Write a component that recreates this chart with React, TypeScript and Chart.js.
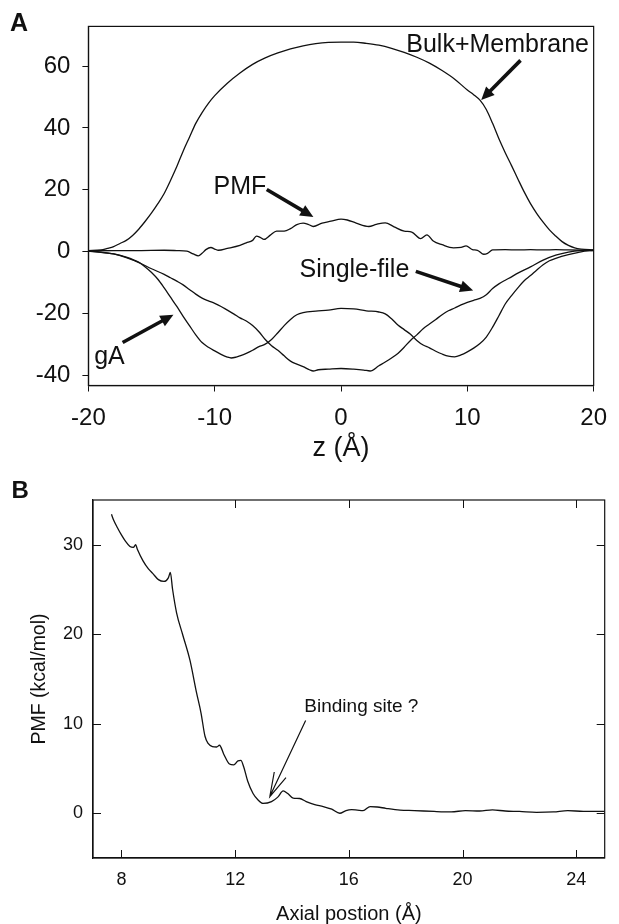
import React, { useEffect, useRef } from 'react';
import { Chart, registerables } from 'chart.js';

Chart.register(...registerables);

const FONT = "'Liberation Sans', Arial, Helvetica, sans-serif";
const INK = '#111111';

// ---------- Panel A data ----------
const A_X_TICKS = [-20, -10, 0, 10, 20];
const A_Y_TICKS = [-40, -20, 0, 20, 40, 60];

const BULK_Z = [-20, -19, -18.5, -18, -17.5, -17, -16.5, -16, -15.5, -15, -14.5, -14, -13.5, -13, -12.5, -12, -11.5, -11, -10.5, -10, -9, -8, -7, -6, -5, -4, -3, -2, -1, 0, 1, 2, 3, 4, 5, 6, 7, 8, 9, 10, 10.5, 11, 11.5, 12, 12.5, 13, 13.5, 14, 14.5, 15, 15.5, 16, 16.5, 17, 17.5, 18, 18.5, 19, 20];
const BULK_E = [0.3, 0.5, 1.0, 1.6, 2.6, 3.6, 5.2, 7.3, 9.8, 12.5, 15.5, 18.8, 23.0, 27.5, 32.5, 37.0, 41.5, 45.0, 48.0, 50.5, 54.5, 57.8, 60.6, 62.7, 64.3, 65.6, 66.6, 67.3, 67.7, 67.8, 67.8, 67.4, 66.8, 65.8, 64.5, 62.9, 61.0, 58.6, 55.8, 52.3, 50.8, 49.0, 46.0, 41.5, 36.5, 32.0, 27.8, 23.5, 19.3, 15.5, 12.3, 9.5, 7.0, 5.0, 3.2, 2.0, 1.2, 0.8, 0.5];

const PMF_A_Z = [-20, -18, -16, -14, -13, -12.2, -11.7, -11.3, -11, -10.7, -10.3, -10, -9.7, -9, -8, -7.5, -7, -6.7, -6.4, -6.1, -5.6, -5.1, -4.5, -4, -3.5, -3, -2.6, -2.2, -1.5, -0.8, 0, 0.5, 1.2, 2.2, 2.8, 3.5, 4.2, 5, 5.6, 6.3, 6.8, 7.3, 8, 8.9, 9.5, 9.9, 10.4, 10.8, 11.3, 11.6, 12, 13, 14, 15, 16, 17, 18, 19, 20];
const PMF_A_E = [0.2, 0.3, 0.3, 0.4, 0.3, 0.1, -0.8, -1.4, -0.6, 0.6, 1.3, 0.8, 0.4, 1.0, 2.0, 2.8, 3.6, 5.0, 4.6, 3.9, 5.3, 6.6, 6.6, 7.4, 8.7, 9.2, 8.8, 8.1, 9.2, 9.8, 10.5, 10.2, 9.2, 8.1, 8.8, 9.3, 8.0, 6.6, 6.3, 4.2, 5.4, 3.4, 2.2, 1.2, 1.3, 1.8, 0.6, 0.4, -0.9, -0.6, 0.5, 0.6, 0.5, 0.6, 0.5, 0.6, 0.5, 0.4, 0.3];

const SINGLE_Z = [-20, -19, -18, -17, -16, -15, -14, -13.5, -13, -12.5, -12, -11.5, -11, -10.5, -10, -9.5, -9, -8.5, -8, -7.5, -7, -6.5, -6, -5.5, -5, -4.5, -4, -3.5, -3, -2.5, -2.2, -1.8, -1, 0, 1, 1.8, 2.3, 3, 3.5, 4, 4.5, 5, 5.5, 6, 6.5, 7, 7.5, 8, 8.5, 9, 9.5, 10, 10.5, 11, 11.5, 12, 12.5, 13, 13.5, 14, 15, 16, 17, 18, 19, 20];
const SINGLE_E = [0.1, -0.2, -0.8, -2.0, -3.6, -5.6, -7.4, -8.5, -9.6, -10.8, -12.3, -13.8, -15.1, -16.0, -16.8, -17.8, -19.0, -20.2, -21.5, -22.5, -24.0, -26.0, -28.5, -30.5, -32.0, -33.8, -35.5, -36.5, -37.3, -38.3, -38.7, -38.3, -38.1, -37.9, -38.1, -38.4, -38.7, -37.0, -35.8, -34.5, -33.0, -31.0, -28.8, -27.0, -25.0, -23.5, -22.0, -20.5, -19.2, -18.3, -17.3, -16.5, -15.8, -15.2, -14.0, -12.0, -10.5, -9.3, -8.2, -7.0, -5.0, -2.8, -1.2, -0.2, 0.3, 0.4];

const GA_Z = [-20, -19, -18, -17, -16, -15.5, -15, -14.5, -14, -13.5, -13, -12.5, -12, -11.5, -11, -10.5, -10, -9.5, -9, -8.7, -8.3, -8, -7.5, -7, -6.5, -6, -5.5, -5, -4.5, -4, -3.5, -3, -2, -1, 0, 1, 2, 3, 3.5, 4, 4.5, 5, 5.5, 6, 6.5, 7, 7.5, 8, 8.5, 9, 9.5, 10, 10.5, 11, 11.5, 12, 12.5, 13, 13.5, 14, 14.5, 15, 15.5, 16, 16.5, 17, 18, 19, 20];
const GA_E = [0.1, -0.3, -0.8, -1.8, -3.5, -5.0, -6.8, -9.0, -11.8, -14.8, -17.8, -21.0, -24.0, -27.0, -29.5, -31.0, -32.2, -33.3, -34.2, -34.5, -34.2, -33.8, -33.0, -32.0, -30.8, -30.0, -28.5, -26.3, -24.0, -22.0, -20.5, -19.8, -19.3, -19.0, -18.4, -18.6, -19.2, -19.6, -20.2, -21.8, -23.8, -25.3, -26.8, -28.8, -30.3, -31.2, -32.3, -33.2, -33.9, -34.1, -33.5, -32.5, -31.3, -29.8, -27.7, -24.5, -20.8, -17.0, -14.3, -11.8, -9.5, -7.8, -6.0, -4.3, -3.0, -2.2, -1.0, -0.1, 0.4];

// annotation anchors in data units (z, energy)
const A_LABELS = [
  { text: 'Bulk+Membrane', z: 12.4, e: 64.6 },
  { text: 'PMF', z: -8.0, e: 18.7 },
  { text: 'Single-file', z: 1.06, e: -8.14 },
  { text: 'gA', z: -18.33, e: -36.56 },
];
const A_ARROWS = [
  { from: [14.21, 61.9], to: [11.1, 49.05] },
  { from: [-5.88, 20.08], to: [-2.19, 11.17] },
  { from: [5.92, -6.44], to: [10.46, -12.65] },
  { from: [-17.29, -29.48], to: [-13.27, -20.47] },
];

// ---------- Panel B data ----------
const B_X_TICKS = [8, 12, 16, 20, 24];
const B_TOP_TICKS = [12, 16, 20, 24];
const B_Y_TICKS = [0, 10, 20, 30];

const B_POS = [7.65, 7.72, 7.86, 8.0, 8.14, 8.3, 8.42, 8.5, 8.56, 8.76, 8.95, 9.1, 9.3, 9.5, 9.65, 9.72, 9.8, 9.94, 10.15, 10.41, 10.64, 10.8, 10.94, 11.05, 11.2, 11.35, 11.45, 11.6, 11.8, 11.95, 12.1, 12.2, 12.3, 12.44, 12.63, 12.8, 12.98, 13.28, 13.5, 13.69, 13.85, 14.04, 14.27, 14.5, 14.8, 15.1, 15.4, 15.68, 15.9, 16.1, 16.3, 16.5, 16.75, 17.0, 17.3, 17.8, 18.3, 19.0, 19.6, 20.1, 20.6, 21.05, 21.5, 22.0, 22.6, 23.2, 23.7, 24.25, 25.0];
const B_PMF = [33.4, 32.8, 31.9, 31.1, 30.4, 29.8, 29.7, 30.0, 29.5, 28.2, 27.3, 26.8, 26.1, 25.9, 26.3, 26.9, 25.0, 22.4, 20.0, 17.1, 13.5, 11.2, 8.6, 7.8, 7.45, 7.4, 7.6, 6.6, 5.5, 5.4, 5.85, 5.9, 5.2, 3.6, 2.2, 1.5, 1.1, 1.3, 1.8, 2.5, 2.2, 1.7, 1.65, 1.3, 0.95, 0.75, 0.45, 0.0, 0.3, 0.4, 0.35, 0.3, 0.75, 0.7, 0.55, 0.35, 0.3, 0.2, 0.15, 0.3, 0.25, 0.37, 0.25, 0.2, 0.1, 0.15, 0.3, 0.2, 0.2];

const B_LABEL = { text: 'Binding site ?', x: 16.44, y: 11.36 };
const B_ARROW = { from: [14.48, 10.35], to: [13.22, 1.86] };

function pts(xs: number[], ys: number[]) {
  return xs.map((x, i) => ({ x, y: ys[i] }));
}

function lineDs(data: { x: number; y: number }[]) {
  return {
    data,
    borderColor: INK,
    borderWidth: 1.3,
    pointRadius: 0,
    fill: false,
    cubicInterpolationMode: 'monotone' as const,
  };
}

function filledArrow(ctx: CanvasRenderingContext2D, x1: number, y1: number, x2: number, y2: number) {
  const ang = Math.atan2(y2 - y1, x2 - x1);
  const headLen = 13;
  const headW = 6;
  const bx = x2 - headLen * Math.cos(ang);
  const by = y2 - headLen * Math.sin(ang);
  ctx.lineWidth = 3.6;
  ctx.lineCap = 'butt';
  ctx.beginPath();
  ctx.moveTo(x1, y1);
  ctx.lineTo(bx + Math.cos(ang), by + Math.sin(ang));
  ctx.stroke();
  ctx.beginPath();
  ctx.moveTo(x2, y2);
  ctx.lineTo(bx + headW * Math.sin(ang), by - headW * Math.cos(ang));
  ctx.lineTo(bx - headW * Math.sin(ang), by + headW * Math.cos(ang));
  ctx.closePath();
  ctx.fill();
}

const decorA = {
  id: 'decorA',
  afterDraw(chart: any) {
    const { ctx, chartArea: ca, scales } = chart;
    const x = scales.x;
    const y = scales.y;
    ctx.save();
    ctx.strokeStyle = INK;
    ctx.fillStyle = INK;
    ctx.lineWidth = 1.2;
    ctx.strokeRect(ca.left, ca.top, ca.right - ca.left, ca.bottom - ca.top);
    ctx.font = `25px ${FONT}`;
    ctx.textAlign = 'center';
    ctx.textBaseline = 'alphabetic';
    for (const l of A_LABELS) {
      ctx.fillText(l.text, x.getPixelForValue(l.z), y.getPixelForValue(l.e));
    }
    for (const a of A_ARROWS) {
      filledArrow(
        ctx,
        x.getPixelForValue(a.from[0]),
        y.getPixelForValue(a.from[1]),
        x.getPixelForValue(a.to[0]),
        y.getPixelForValue(a.to[1])
      );
    }
    ctx.font = `bold 25px ${FONT}`;
    ctx.textAlign = 'left';
    ctx.fillText('A', 10, 30.7);
    ctx.restore();
  },
};

const decorB = {
  id: 'decorB',
  afterDraw(chart: any) {
    const { ctx, chartArea: ca, scales } = chart;
    const x = scales.x;
    const y = scales.y;
    ctx.save();
    ctx.strokeStyle = INK;
    ctx.fillStyle = INK;
    ctx.lineWidth = 1.2;
    ctx.strokeRect(ca.left, ca.top, ca.right - ca.left, ca.bottom - ca.top);
    const tl = 8;
    ctx.beginPath();
    for (const v of B_Y_TICKS) {
      const py = Math.round(y.getPixelForValue(v)) + 0.5;
      ctx.moveTo(ca.left, py);
      ctx.lineTo(ca.left + tl, py);
      ctx.moveTo(ca.right, py);
      ctx.lineTo(ca.right - tl, py);
    }
    for (const v of B_X_TICKS) {
      const px = Math.round(x.getPixelForValue(v)) + 0.5;
      ctx.moveTo(px, ca.bottom);
      ctx.lineTo(px, ca.bottom - tl);
    }
    for (const v of B_TOP_TICKS) {
      const px = Math.round(x.getPixelForValue(v)) + 0.5;
      ctx.moveTo(px, ca.top);
      ctx.lineTo(px, ca.top + tl);
    }
    ctx.lineWidth = 1;
    ctx.stroke();

    ctx.font = `19px ${FONT}`;
    ctx.textAlign = 'center';
    ctx.textBaseline = 'alphabetic';
    ctx.fillText(B_LABEL.text, x.getPixelForValue(B_LABEL.x), y.getPixelForValue(B_LABEL.y));

    const x1 = x.getPixelForValue(B_ARROW.from[0]);
    const y1 = y.getPixelForValue(B_ARROW.from[1]);
    const x2 = x.getPixelForValue(B_ARROW.to[0]);
    const y2 = y.getPixelForValue(B_ARROW.to[1]);
    const ang = Math.atan2(y1 - y2, x1 - x2);
    const hl = 25;
    const spread = (15 * Math.PI) / 180;
    ctx.lineWidth = 1.2;
    ctx.beginPath();
    ctx.moveTo(x1, y1);
    ctx.lineTo(x2, y2);
    ctx.moveTo(x2 + hl * Math.cos(ang - spread), y2 + hl * Math.sin(ang - spread));
    ctx.lineTo(x2, y2);
    ctx.lineTo(x2 + hl * Math.cos(ang + spread), y2 + hl * Math.sin(ang + spread));
    ctx.stroke();

    ctx.font = `bold 24px ${FONT}`;
    ctx.textAlign = 'left';
    ctx.fillText('B', 11.5, 36.3);
    ctx.restore();
  },
};

export default function App() {
  const refA = useRef<HTMLCanvasElement | null>(null);
  const refB = useRef<HTMLCanvasElement | null>(null);

  useEffect(() => {
    if (!refA.current || !refB.current) return;

    const chartA = new Chart(refA.current, {
      type: 'line',
      data: {
        datasets: [
          lineDs(pts(BULK_Z, BULK_E)),
          lineDs(pts(PMF_A_Z, PMF_A_E)),
          lineDs(pts(SINGLE_Z, SINGLE_E)),
          lineDs(pts(GA_Z, GA_E)),
        ],
      },
      options: {
        responsive: false,
        animation: false,
        events: [],
        layout: { padding: { left: 0, right: 16.3, top: 24.3, bottom: 0 } },
        plugins: { legend: { display: false }, tooltip: { enabled: false } },
        scales: {
          x: {
            type: 'linear',
            min: -20,
            max: 20,
            afterBuildTicks: (s: any) => {
              s.ticks = A_X_TICKS.map((v) => ({ value: v }));
            },
            afterFit: (s: any) => {
              s.height = 76.5;
            },
            grid: { display: true, drawOnChartArea: false, drawTicks: true, tickLength: 6, color: INK, lineWidth: 1 },
            border: { display: true, color: INK, width: 1.2 },
            ticks: { font: { family: FONT, size: 24 }, color: INK, padding: 12, maxRotation: 0 },
            title: {
              display: true,
              text: 'z (Å)',
              color: INK,
              font: { family: FONT, size: 27, lineHeight: 1 },
              padding: { top: 0, bottom: 0 },
            },
          },
          y: {
            type: 'linear',
            min: -43.4,
            max: 72.9,
            afterBuildTicks: (s: any) => {
              s.ticks = A_Y_TICKS.map((v) => ({ value: v }));
            },
            afterFit: (s: any) => {
              s.width = 88.4;
            },
            grid: { display: true, drawOnChartArea: false, drawTicks: true, tickLength: 6, color: INK, lineWidth: 1 },
            border: { display: true, color: INK, width: 1.2 },
            ticks: { font: { family: FONT, size: 24 }, color: INK, padding: 12 },
          },
        },
      } as any,
      plugins: [decorA],
    });

    const chartB = new Chart(refB.current, {
      type: 'line',
      data: {
        datasets: [lineDs(pts(B_POS, B_PMF))],
      },
      options: {
        responsive: false,
        animation: false,
        events: [],
        layout: { padding: { left: 0, right: 14.3, top: 38, bottom: 0 } },
        plugins: { legend: { display: false }, tooltip: { enabled: false } },
        scales: {
          x: {
            type: 'linear',
            min: 7,
            max: 25,
            afterBuildTicks: (s: any) => {
              s.ticks = B_X_TICKS.map((v) => ({ value: v }));
            },
            afterFit: (s: any) => {
              s.height = 66;
            },
            grid: { display: false, drawTicks: false },
            border: { display: true, color: INK, width: 1.2 },
            ticks: { font: { family: FONT, size: 18 }, color: INK, padding: 11, maxRotation: 0 },
            title: {
              display: true,
              text: 'Axial postion (Å)',
              color: INK,
              font: { family: FONT, size: 20, lineHeight: 1 },
              padding: { top: 0, bottom: 0 },
            },
          },
          y: {
            type: 'linear',
            min: -5,
            max: 35,
            afterBuildTicks: (s: any) => {
              s.ticks = B_Y_TICKS.map((v) => ({ value: v }));
            },
            afterFit: (s: any) => {
              s.width = 93;
            },
            grid: { display: false, drawTicks: false },
            border: { display: true, color: INK, width: 1.2 },
            ticks: { font: { family: FONT, size: 18 }, color: INK, padding: 10 },
            title: {
              display: true,
              text: 'PMF (kcal/mol)',
              color: INK,
              font: { family: FONT, size: 19.5, lineHeight: 1 },
              padding: { top: 29.75, bottom: 0 },
            },
          },
        },
      } as any,
      plugins: [decorB],
    });

    return () => {
      chartA.destroy();
      chartB.destroy();
    };
  }, []);

  return (
    <div style={{ position: 'absolute', left: 0, top: 0, width: 619, height: 924, background: '#ffffff' }}>
      <canvas ref={refA} width={619} height={462} style={{ position: 'absolute', left: 0, top: 0, width: 619, height: 462 }} />
      <canvas ref={refB} width={619} height={462} style={{ position: 'absolute', left: 0, top: 462, width: 619, height: 462 }} />
    </div>
  );
}
